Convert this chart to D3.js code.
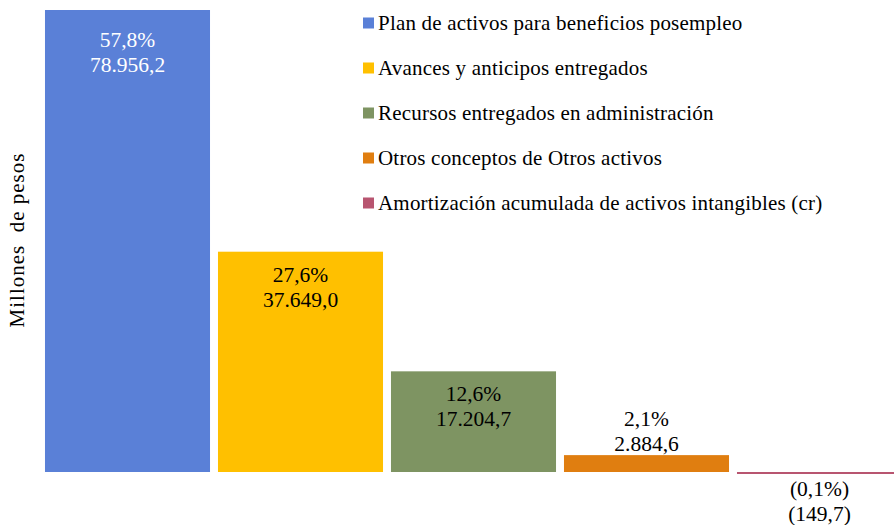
<!DOCTYPE html>
<html>
<head>
<meta charset="utf-8">
<script src="https://cdn.jsdelivr.net/npm/d3@7"></script>
<style>
  body { margin: 0; background: #fff; }
</style>
</head>
<body>
<div id="chart"></div>
<script>
// Chart data
const categories = [
    "Plan de activos para beneficios posempleo",
    "Avances y anticipos entregados",
    "Recursos entregados en administración",
    "Otros conceptos de Otros activos",
    "Amortización acumulada de activos intangibles (cr)"
];
const values = [78956.2, 37649.0, 17204.7, 2884.6, -149.7];
const shares = ["57,8%", "27,6%", "12,6%", "2,1%", "(0,1%)"];
const valueLabels = ["78.956,2", "37.649,0", "17.204,7", "2.884,6", "(149,7)"];
const colors = ["#5A80D7", "#FFC000", "#7E9462", "#E07E10", "#B85570"];

const width = 894;
const height = 525;
const font = "'Liberation Serif', 'Times New Roman', Times, serif";

const svg = d3.select("#chart")
    .append("svg")
    .attr("width", width)
    .attr("height", height)
    .attr("font-family", font);

// Scales
const x = d3.scaleBand()
    .domain(categories)
    .range([41, 906])
    .paddingInner(0.046)
    .paddingOuter(0.023);

const y = d3.scaleLinear()
    .domain([0, 78956.2])
    .range([472, 10]);

// Bars
svg.selectAll("rect.bar")
    .data(values)
    .enter()
    .append("rect")
    .attr("class", "bar")
    .attr("x", (d, i) => x(categories[i]))
    .attr("y", d => Math.min(y(d), y(0)))
    .attr("width", x.bandwidth())
    .attr("height", d => Math.max(Math.abs(y(d) - y(0)), 2))
    .attr("fill", (d, i) => colors[i]);

// Data labels: inside the tall bars, above the small one, below the negative one
const labels = svg.selectAll("g.label")
    .data(values)
    .enter()
    .append("g")
    .attr("class", "label")
    .attr("transform", (d, i) => {
        const cx = x(categories[i]) + x.bandwidth() / 2;
        let ty;
        if (d < 0) ty = y(0) + 24;
        else if (y(0) - y(d) < 60) ty = y(d) - 29;
        else ty = y(d) + (i === 0 ? 37 : 30);
        return `translate(${cx},${ty})`;
    });

labels.append("text")
    .attr("text-anchor", "middle")
    .attr("font-size", 21.5)
    .attr("fill", (d, i) => i === 0 ? "#fff" : "#000")
    .text((d, i) => shares[i]);

labels.append("text")
    .attr("text-anchor", "middle")
    .attr("y", 25)
    .attr("font-size", 21.5)
    .attr("fill", (d, i) => i === 0 ? "#fff" : "#000")
    .text((d, i) => valueLabels[i]);

// Y axis title
svg.append("text")
    .attr("transform", "translate(24,240) rotate(-90)")
    .attr("text-anchor", "middle")
    .attr("font-size", 21)
    .attr("letter-spacing", 1)
    .attr("fill", "#000")
    .style("white-space", "pre")
    .text("Millones  de pesos");

// Legend
const legend = svg.selectAll("g.legend-item")
    .data(categories)
    .enter()
    .append("g")
    .attr("class", "legend-item")
    .attr("transform", (d, i) => `translate(363,${23 + i * 45})`);

legend.append("rect")
    .attr("x", 0)
    .attr("y", -5.5)
    .attr("width", 11)
    .attr("height", 11)
    .attr("fill", (d, i) => colors[i]);

legend.append("text")
    .attr("x", 15)
    .attr("y", 7)
    .attr("font-size", 21)
    .attr("letter-spacing", 0.2)
    .attr("fill", "#000")
    .text(d => d);
</script>
</body>
</html>
